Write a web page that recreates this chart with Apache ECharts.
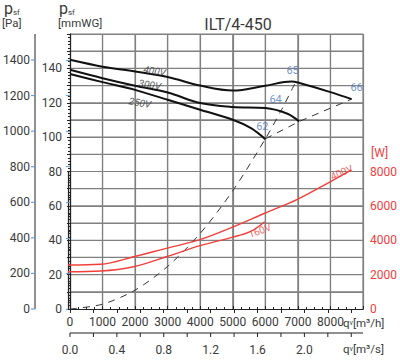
<!DOCTYPE html>
<html><head><meta charset="utf-8">
<script src="https://cdn.jsdelivr.net/npm/echarts@6/dist/echarts.min.js"></script>
<style>html,body{margin:0;padding:0;background:#fff}#c{width:400px;height:361px}</style>
</head><body><div id="c"></div>
<script>
// ---- data ----
const title = 'ILT/4-450';
const q400 = [0,1000,2000,3000,4000,5000,6000,6800,7000,8000,8650];
const p400 = [145,141,138.2,135,130,127.1,129.9,132.4,131.8,126.2,122.1];
const q300 = [0,1000,2000,3000,4000,5000,6000,6680,7040];
const p300 = [139.2,134.3,129.9,126,119.8,117.5,116.9,113.6,109.1];
const q250 = [0,1000,2000,3000,4000,5000,5560,6000];
const p250 = [136.7,132,127.5,121.7,115.9,110.1,105.2,98.8];
const qSys = [0,1000,2000,3000,4000,5000,6000,6500,6930];
const pSys = [0,2.8,11,24.8,44,68.8,99,116,132];
const qEff = [6000,7040,8650];
const pEff = [99,109.1,122.1];
const qW400 = [0,1000,2000,3000,4000,5000,6000,7000,8000,8650];
const w400 = [2560,2600,3040,3530,4020,4750,5570,6380,7400,8090];
const qW160 = [0,1000,2000,3000,4000,5000,5560,6000];
const w160 = [2170,2210,2460,3040,3670,4170,4500,5080];
const effNames = ['62','64','65','66'];
const effQ = [6000,6500,6930,8650];
const effP = [99,115,132,122.1];
const voltNames = ['400V','300V','250V'];
const voltQ = [2600,2450,2150];
const voltP = [138.5,130.5,120];
const powNames = ['400V','160V'];
const powQ = [8350,5850];
const powW = [7950,4550];
const gridQ = [1000,2000,3000,4000,5000,6000,7000,8000,9000];
const gridMm = [10,20,30,40,50,60,70,80,90,100,110,120,130,140,150,160];
const paTicks = [0,200,400,600,800,1000,1200,1400];
const qsTicks = [0,0.2,0.4,0.6,0.8,1.0,1.2,1.4,1.6,1.8,2.0,2.2,2.4];
const qLabelMaxH = 8000;            // last m³/h label shown
const qsLabelStep = 0.4, qsLabelMax = 2.0;   // m³/s labels
const mmLabelStep = 20, mmLabelMax = 140;
const paLabelMax = 1400;

const zip = (a,b)=>a.map((v,i)=>[v,b[i]]);
const FONT = 'Roboto';
const TXT = '#3a3a3a';
const RED = '#f0403c';
const BLUE = '#4f78c8';
const GRIDC = '#808080';

const chart = echarts.init(document.getElementById('c'), null, {renderer:'svg'});
// main grid + lower-half grid for the power axis (0..8000 W spans half the height)
const G0 = {left:68, top:34, width:295, height:275};
const G1 = {left:68, top:171.5, width:295, height:137.5};
const PA_X = 35, QS_Y = 333;   // positions of the offset Pa and m³/s axes

const blackLine = (name, q, p) => ({
  type:'line', name, xAxisIndex:0, yAxisIndex:0, data: zip(q,p), smooth:0.35,
  showSymbol:false, lineStyle:{color:'#111', width:2}, z:5, silent:true
});
const dashLine = (q, p, smooth) => ({
  type:'line', xAxisIndex:0, yAxisIndex:0, data: zip(q,p), smooth,
  showSymbol:false, lineStyle:{color:'#333', width:1, type:[7,6]}, z:4, silent:true
});
const redLine = (q, w) => ({
  type:'line', xAxisIndex:2, yAxisIndex:2, data: zip(q,w), smooth:0.35, clip:false,
  showSymbol:false, lineStyle:{color:RED, width:1.4}, z:5, silent:true
});

const baseGraphic = [
  {type:'text', left:4, top:0, style:{text:'{p|p}{s|sf}', rich:{p:{fontSize:16, fill:TXT, fontFamily:FONT}, s:{fontSize:8, fill:TXT, fontFamily:FONT, verticalAlign:'bottom', padding:[6,0,0,0]}}}},
  {type:'text', left:2, top:17, style:{text:'[Pa]', fontSize:11.5, fill:TXT, fontFamily:FONT}},
  {type:'text', left:59, top:0, style:{text:'{p|p}{s|sf}', rich:{p:{fontSize:16, fill:TXT, fontFamily:FONT}, s:{fontSize:8, fill:TXT, fontFamily:FONT, verticalAlign:'bottom', padding:[6,0,0,0]}}}},
  {type:'text', left:58, top:17, style:{text:'[mmWG]', fontSize:11.5, fill:TXT, fontFamily:FONT}},
  {type:'text', left:371, top:147, style:{text:'[W]', fontSize:12, fill:RED, fontFamily:FONT}},
  {type:'text', left:343, top:317, style:{text:'{q|q}{v|v}{n|[m³/h]}', rich:{q:{fontSize:11.5, fill:TXT, fontFamily:FONT}, v:{fontSize:7, fill:TXT, fontFamily:FONT}, n:{fontSize:11.5, fill:TXT, fontFamily:FONT}}}},
  {type:'text', left:343, top:343, style:{text:'{q|q}{v|v}{n|[m³/s]}', rich:{q:{fontSize:11.5, fill:TXT, fontFamily:FONT}, v:{fontSize:7, fill:TXT, fontFamily:FONT}, n:{fontSize:11.5, fill:TXT, fontFamily:FONT}}}}
];

const option = {
  animation:false,
  backgroundColor:'#fff',
  textStyle:{fontFamily:FONT},
  grid: [G0, G1],
  title:{text:title, left:233, top:11, textAlign:'center',
    textStyle:{fontSize:16, fontWeight:'normal', color:TXT, fontFamily:FONT}},
  xAxis:[
    {type:'value', gridIndex:0, min:0, max:9000, interval:1000, position:'bottom',
     axisLine:{show:true, lineStyle:{color:'#222', width:1.2}},
     axisTick:{show:true, inside:true, length:3, lineStyle:{color:'#222'}},
     minorTick:{show:true, splitNumber:4, length:2, lineStyle:{color:'#222'}},
     axisLabel:{margin:7, fontSize:12, color:TXT, formatter:v=> v<=qLabelMaxH ? String(v) : ''},
     splitLine:{show:true, lineStyle:{color:GRIDC, width:1.2}}},
    {type:'value', gridIndex:0, min:0, max:2.5, interval:0.2, position:'bottom', offset:24,
     axisLine:{show:true, lineStyle:{color:'#222', width:1.2}},
     axisTick:{show:true, inside:false, length:4, lineStyle:{color:'#222'}},
     axisLabel:{margin:11, fontSize:12, color:TXT, showMaxLabel:false,
       formatter:v=> (Math.round(v*10) % Math.round(qsLabelStep*10) === 0 && v <= qsLabelMax + 1e-9) ? v.toFixed(1) : ''},
     splitLine:{show:false}},
    {type:'value', gridIndex:1, min:0, max:9000, show:false, splitLine:{show:false}}
  ],
  yAxis:[
    {type:'value', gridIndex:0, min:0, max:160, interval:10, position:'left',
     axisLine:{show:true, lineStyle:{color:'#222', width:1.2}},
     axisTick:{show:true, inside:false, length:3, lineStyle:{color:'#222'}},
     minorTick:{show:true, splitNumber:5, length:2, lineStyle:{color:'#222'}},
     axisLabel:{margin:8, fontSize:12, color:TXT, formatter:v=> (v%mmLabelStep===0 && v<=mmLabelMax) ? String(v) : ''},
     splitLine:{show:true, lineStyle:{color:GRIDC, width:1.2}}},
    {type:'value', gridIndex:0, min:0, max:1546, interval:200, position:'left', offset:33,
     axisLine:{show:true, lineStyle:{color:'#222', width:1}},
     axisTick:{show:true, inside:false, length:4, lineStyle:{color:'#6a9fd8', width:1.2}},
     axisLabel:{margin:7, fontSize:12, color:TXT, showMaxLabel:false, formatter:v=> v<=paLabelMax ? String(v) : ''},
     splitLine:{show:false}},
    {type:'value', gridIndex:1, min:0, max:8000, interval:2000, position:'right',
     axisLine:{show:true, lineStyle:{color:'#222', width:1.2}},
     axisTick:{show:true, inside:false, length:3, lineStyle:{color:'#222'}},
     minorTick:{show:true, splitNumber:4, length:3, lineStyle:{color:'#222'}},
     axisLabel:{margin:7, fontSize:12, color:RED, formatter:v=>String(v)},
     splitLine:{show:false}}
  ],
  graphic: baseGraphic,
  series:[
    blackLine('400V', q400, p400),
    blackLine('300V', q300, p300),
    blackLine('250V', q250, p250),
    dashLine(qSys, pSys, 0.3),
    dashLine(qEff, pEff, 0),
    redLine(qW400, w400),
    redLine(qW160, w160),
    {type:'scatter', xAxisIndex:0, yAxisIndex:0, symbolSize:0, silent:true, z:6, clip:false,
     data: effNames.map((n,i)=>({name:n, value:[effQ[i], effP[i]],
       label:{position:'top', offset: [[-3,-2],[-6,-1],[-3,-1],[5,-1]][i]}})),
     label:{show:true, formatter:p=>p.name, color:BLUE, fontSize:11, fontFamily:FONT}},
    {type:'scatter', xAxisIndex:0, yAxisIndex:0, symbolSize:0, silent:true, z:6,
     data: voltNames.map((n,i)=>({name:n, value:[voltQ[i], voltP[i]]})),
     label:{show:true, position:'inside', rotate:-10, formatter:p=>p.name, color:'#333', fontSize:10, fontStyle:'italic', fontFamily:FONT}},
    {type:'scatter', xAxisIndex:2, yAxisIndex:2, symbolSize:0, silent:true, z:6, clip:false,
     data: powNames.map((n,i)=>({name:n, value:[powQ[i], powW[i]], label:{rotate:[24,20][i]}})),
     label:{show:true, position:'inside', formatter:p=>p.name, color:RED, fontSize:10, fontFamily:FONT}}
  ]
};
chart.setOption(option);

// Grid lines and offset-axis lines/ticks, positioned through the axes' own scales.
const px = (axis, v) => chart.convertToPixel(axis, v);
const yTop = px({yAxisIndex:0}, 160), yBot = px({yAxisIndex:0}, 0);
const xL = px({xAxisIndex:0}, 0), xR = px({xAxisIndex:0}, 9000);
const lines = [];
const ln = (x1,y1,x2,y2,stroke,w) => lines.push({type:'line', z:-1, silent:true,
  shape:{x1,y1,x2,y2}, style:{stroke, lineWidth:w}});
gridQ.forEach(v=>{ const x = px({xAxisIndex:0}, v); ln(x, yTop, x, yBot, GRIDC, 1.2); });
gridMm.forEach(v=>{ const y = px({yAxisIndex:0}, v); ln(xL, y, xR, y, GRIDC, 1.2); });
ln(PA_X, px({yAxisIndex:1}, 1546), PA_X, px({yAxisIndex:1}, 0), '#222', 1);
paTicks.forEach(v=>{ const y = px({yAxisIndex:1}, v); ln(PA_X-4, y, PA_X, y, '#6a9fd8', 1.2); });
ln(px({xAxisIndex:1}, 0), QS_Y, px({xAxisIndex:1}, 2.5), QS_Y, '#222', 1.2);
qsTicks.forEach(v=>{ const x = px({xAxisIndex:1}, v); ln(x, QS_Y, x, QS_Y+4, '#222', 1); });
chart.setOption({graphic: baseGraphic.concat(lines)}, {replaceMerge:['graphic']});
</script></body></html>
